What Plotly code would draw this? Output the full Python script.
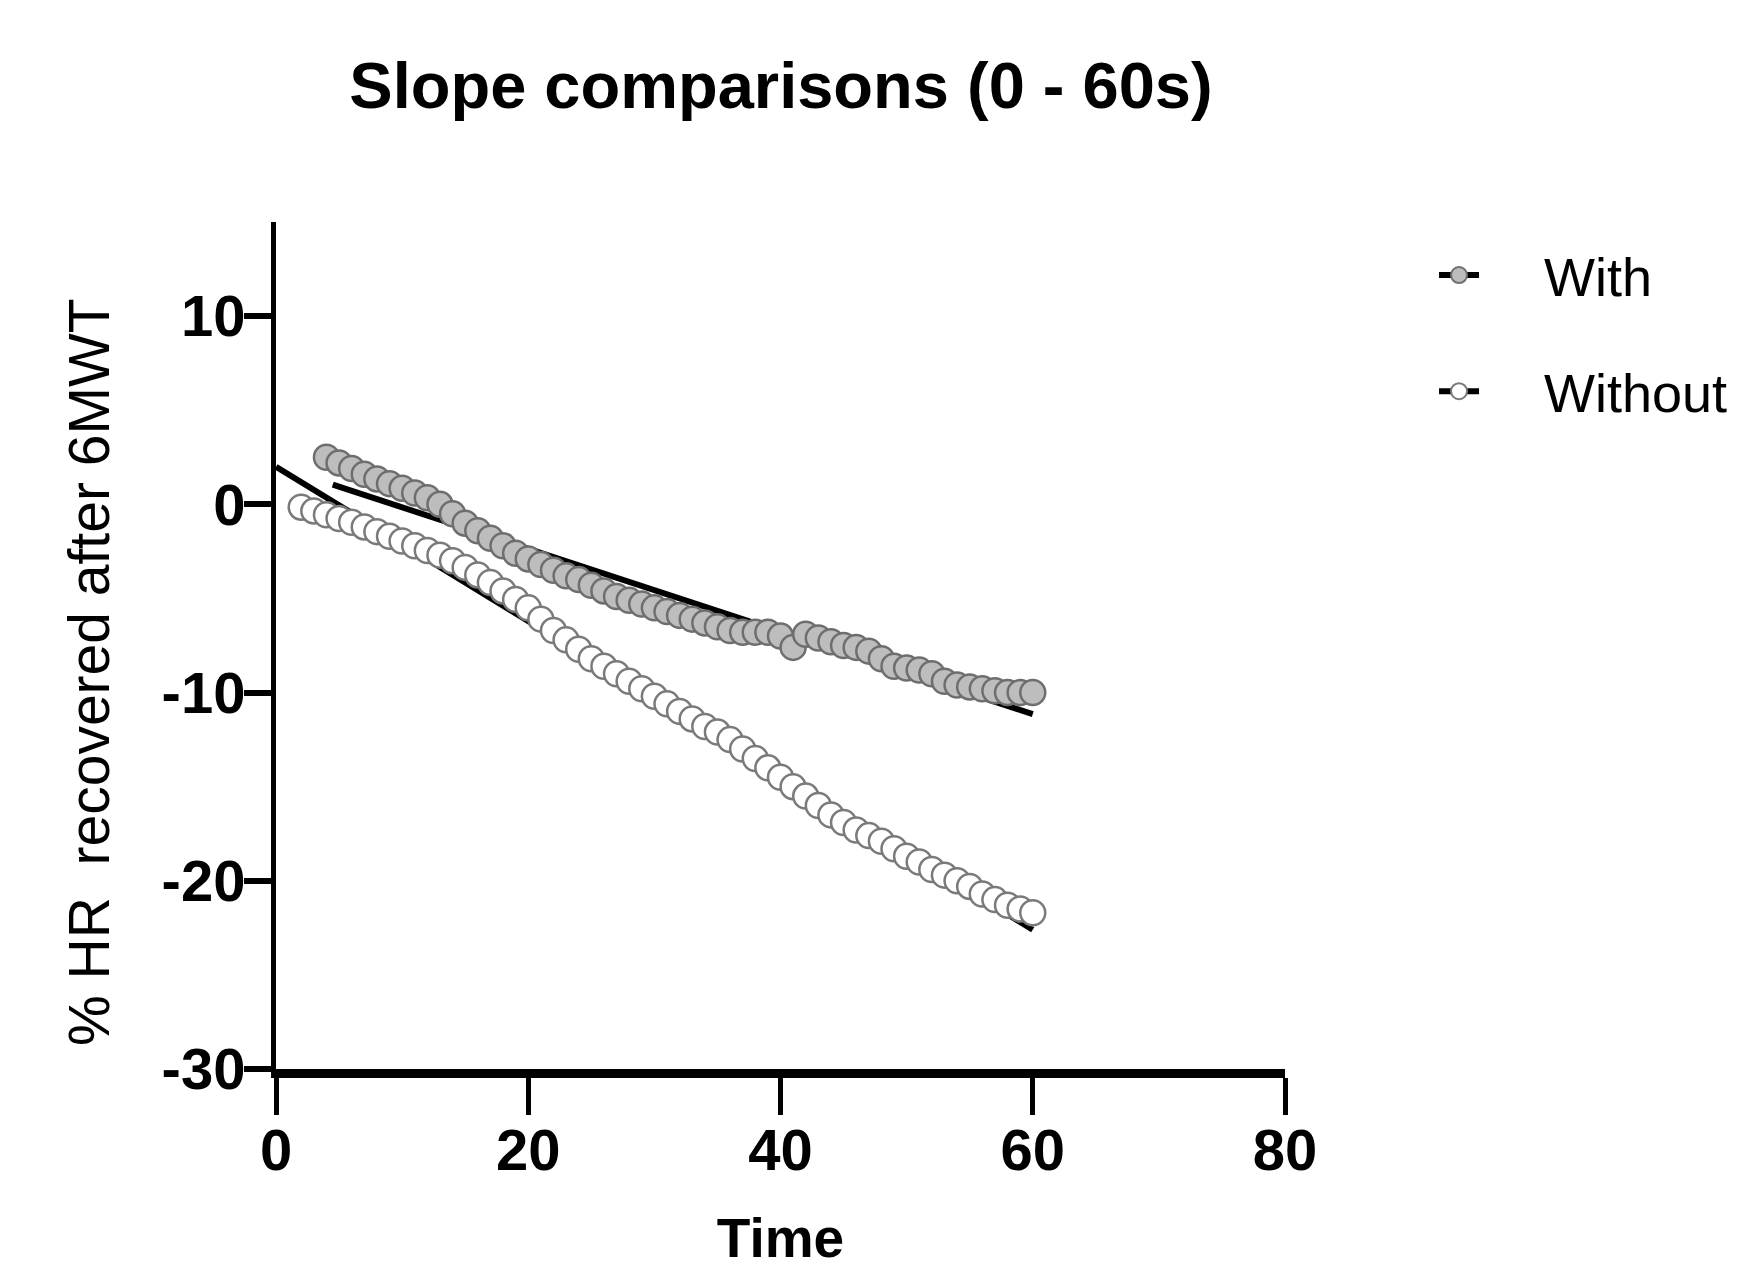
import plotly.graph_objects as go

# ---- data ----
with_x = list(range(4, 61))
with_y = [2.5, 2.2, 1.9, 1.6, 1.35, 1.1, 0.85, 0.6, 0.35, 0.0,
          -0.5, -1.0, -1.4, -1.8, -2.2, -2.6, -2.9, -3.2, -3.5, -3.8,
          -4.0, -4.3, -4.6, -4.9, -5.1, -5.3, -5.5, -5.7, -5.9, -6.1,
          -6.3, -6.5, -6.7, -6.8, -6.8, -6.8, -7.0, -7.6, -6.9, -7.1,
          -7.3, -7.5, -7.6, -7.8, -8.2, -8.6, -8.7, -8.8, -9.0, -9.4,
          -9.6, -9.7, -9.8, -9.9, -10.0, -10.0, -10.0]

without_x = list(range(2, 61))
without_y = [-0.15, -0.35, -0.55, -0.75, -0.95, -1.2, -1.45, -1.7, -1.95, -2.2,
             -2.45, -2.7, -3.0, -3.35, -3.75, -4.15, -4.6, -5.05, -5.5, -6.1,
             -6.7, -7.2, -7.7, -8.2, -8.6, -9.0, -9.4, -9.8, -10.2, -10.6,
             -11.0, -11.4, -11.8, -12.1, -12.5, -13.0, -13.5, -14.0, -14.5, -15.0,
             -15.5, -16.0, -16.5, -16.9, -17.3, -17.6, -17.9, -18.3, -18.7, -19.0,
             -19.4, -19.7, -20.0, -20.3, -20.7, -21.0, -21.3, -21.5, -21.7]

fit_with_x = [4.5, 60]
fit_with_y = [1.05, -11.15]
fit_without_x = [0, 60]
fit_without_y = [2.0, -22.6]

x_ticks = [0, 20, 40, 60, 80]
y_ticks = [-30, -20, -10, 0, 10]

FONT = "Liberation Sans, Arial, sans-serif"
NBSP = "\u00a0"

W, H = 1743, 1270  # page adds an 8px body margin; margins below compensate

fig = go.Figure()

# regression lines (drawn beneath markers)
fig.add_trace(go.Scatter(x=fit_without_x, y=fit_without_y, mode="lines",
                         line=dict(color="black", width=6), showlegend=False,
                         cliponaxis=False))
fig.add_trace(go.Scatter(x=fit_with_x, y=fit_with_y, mode="lines",
                         line=dict(color="black", width=6), showlegend=False,
                         cliponaxis=False))

# data markers
fig.add_trace(go.Scatter(x=without_x, y=without_y, mode="markers",
                         marker=dict(symbol="circle", size=25, color="white",
                                     line=dict(color="#7a7a7a", width=2.5)),
                         showlegend=False, cliponaxis=False))
fig.add_trace(go.Scatter(x=with_x, y=with_y, mode="markers",
                         marker=dict(symbol="circle", size=25, color="#bdbdbd",
                                     line=dict(color="#6e6e6e", width=2.5)),
                         showlegend=False, cliponaxis=False))

# legend entries
fig.add_trace(go.Scatter(x=[None], y=[None], mode="lines+markers",
                         name=NBSP * 4 + "With", legendgroup="a",
                         line=dict(color="black", width=6),
                         marker=dict(symbol="circle", size=16, color="#bdbdbd",
                                     line=dict(color="#6e6e6e", width=2))))
fig.add_trace(go.Scatter(x=[None], y=[None], mode="lines+markers",
                         name=NBSP * 4 + "Without", legendgroup="b",
                         line=dict(color="black", width=6),
                         marker=dict(symbol="circle", size=16, color="white",
                                     line=dict(color="#7a7a7a", width=2))))

fig.update_layout(
    width=W, height=H,
    margin=dict(l=268, r=466, t=214, b=209),
    paper_bgcolor="white", plot_bgcolor="white",
    title=dict(text="<b>Slope comparisons (0 - 60s)</b>",
               font=dict(family=FONT, size=65, color="black"),
               x=773 / W, xanchor="center", y=1 - 77 / H, yanchor="middle"),
    legend=dict(x=1.1477, xanchor="left", y=0.9865, yanchor="top",
                font=dict(family=FONT, size=54, color="black"),
                traceorder="grouped", tracegroupgap=43,
                bgcolor="rgba(0,0,0,0)", itemwidth=40),
    showlegend=True,
    annotations=[dict(text="% HR  recovered after 6MWT", textangle=-90,
                      xref="paper", yref="paper",
                      x=(89 - 276) / 1009, y=(1069 - 672) / 847,
                      xanchor="center", yanchor="middle", showarrow=False,
                      font=dict(family=FONT, size=57, color="black"))],
)

fig.update_xaxes(range=[0, 80], tickvals=x_ticks,
                 ticktext=[f"<b>{v}</b>" for v in x_ticks],
                 showgrid=False, zeroline=False, automargin=False,
                 showline=True, linecolor="black", linewidth=9,
                 ticks="outside", ticklen=37, tickwidth=5, tickcolor="black",
                 ticklabelstandoff=-15,
                 tickfont=dict(family=FONT, size=58, color="black"),
                 title=dict(text="<b>Time</b>",
                            font=dict(family=FONT, size=55, color="black"),
                            standoff=41))
fig.update_yaxes(range=[-30, 15], tickvals=y_ticks,
                 ticktext=[f"<b>{v}</b>" for v in y_ticks],
                 showgrid=False, zeroline=False, automargin=False,
                 showline=True, linecolor="black", linewidth=5,
                 ticks="outside", ticklen=27, tickwidth=6, tickcolor="black",
                 ticklabelstandoff=-13,
                 tickfont=dict(family=FONT, size=58, color="black"))

fig.write_html("out.html")
